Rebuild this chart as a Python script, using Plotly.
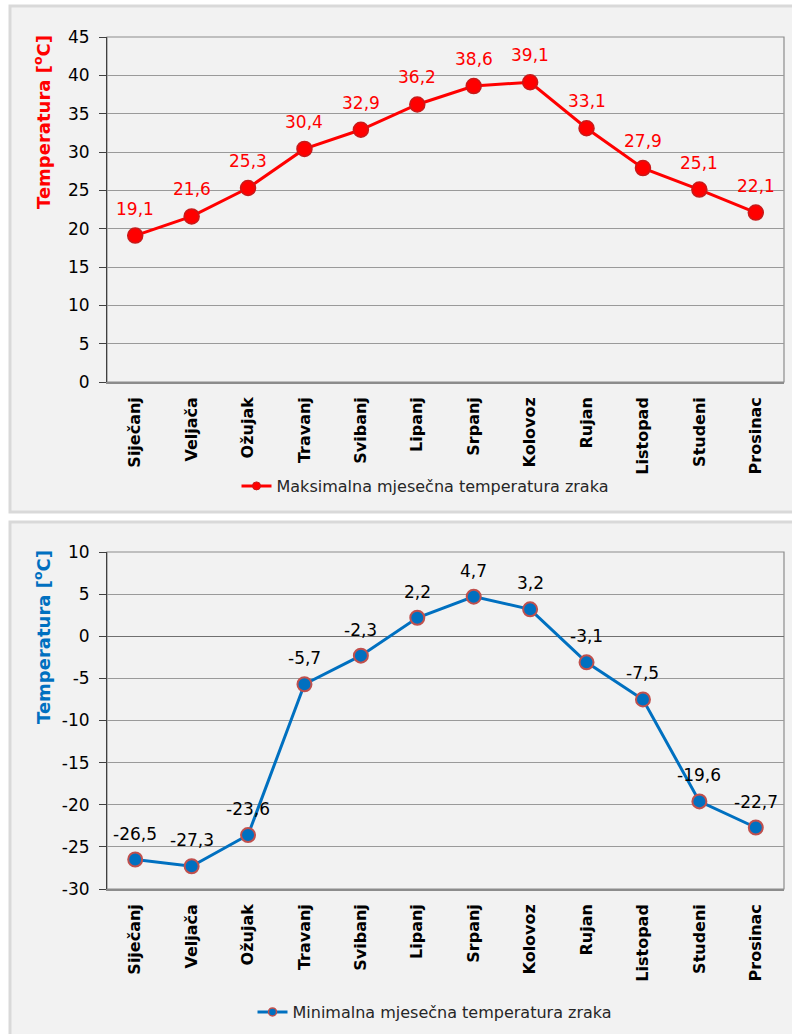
import plotly.graph_objects as go

months = ["Siječanj", "Veljača", "Ožujak", "Travanj", "Svibanj", "Lipanj",
          "Srpanj", "Kolovoz", "Rujan", "Listopad", "Studeni", "Prosinac"]
max_temp = [19.1, 21.6, 25.3, 30.4, 32.9, 36.2, 38.6, 39.1, 33.1, 27.9, 25.1, 22.1]
min_temp = [-26.5, -27.3, -23.6, -5.7, -2.3, 2.2, 4.7, 3.2, -3.1, -7.5, -19.6, -22.7]
max_ticks = [0, 5, 10, 15, 20, 25, 30, 35, 40, 45]
min_ticks = [-30, -25, -20, -15, -10, -5, 0, 5, 10]
max_name = "Maksimalna mjesečna temperatura zraka"
min_name = "Minimalna mjesečna temperatura zraka"
y_title = "Temperatura [<sup>o</sup>C]"

W, H = 792, 1034
FONT = "DejaVu Sans"
RED = "#ff0000"
BLUE = "#0070c0"
GRID = "#9a9a9a"

def px_x(p):
    return p / W

def px_y(p):
    return 1 - p / H

def fmt(v):
    return f"{v:.1f}".replace(".", ",")

fig = go.Figure()

# data traces
fig.add_trace(go.Scatter(
    x=months, y=max_temp, mode="lines+markers", xaxis="x", yaxis="y",
    line=dict(color=RED, width=3),
    marker=dict(size=15, color=RED, line=dict(color="#c81a1a", width=1.5)),
    showlegend=False, hoverinfo="x+y"))
fig.add_trace(go.Scatter(
    x=months, y=min_temp, mode="lines+markers", xaxis="x2", yaxis="y2",
    line=dict(color=BLUE, width=3),
    marker=dict(size=14, color=BLUE, line=dict(color="#c0504d", width=2)),
    showlegend=False, hoverinfo="x+y"))

# legend entries
fig.add_trace(go.Scatter(
    x=[None], y=[None], mode="lines+markers", name=max_name, xaxis="x", yaxis="y",
    line=dict(color=RED, width=3),
    marker=dict(size=8, color=RED, line=dict(color="#c81a1a", width=1)),
    legend="legend"))
fig.add_trace(go.Scatter(
    x=[None], y=[None], mode="lines+markers", name=min_name, xaxis="x2", yaxis="y2",
    line=dict(color=BLUE, width=3),
    marker=dict(size=8, color=BLUE, line=dict(color="#c0504d", width=1.5)),
    legend="legend2"))

annotations = []
for m, v in zip(months, max_temp):
    annotations.append(dict(x=m, y=v, xref="x", yref="y", text=fmt(v), showarrow=False,
                            yshift=27, yanchor="middle",
                            font=dict(family=FONT, size=17, color=RED)))
for m, v in zip(months, min_temp):
    annotations.append(dict(x=m, y=v, xref="x2", yref="y2", text=fmt(v), showarrow=False,
                            yshift=26, yanchor="middle",
                            font=dict(family=FONT, size=17, color="#000000")))

annotations.append(dict(x=px_x(42), y=px_y(122), xref="paper", yref="paper", text=y_title,
                        textangle=-90, showarrow=False, xanchor="center", yanchor="middle",
                        font=dict(family=FONT, size=18, color=RED, weight="bold")))
annotations.append(dict(x=px_x(42), y=px_y(637), xref="paper", yref="paper", text=y_title,
                        textangle=-90, showarrow=False, xanchor="center", yanchor="middle",
                        font=dict(family=FONT, size=18, color=BLUE, weight="bold")))

shapes = [
    dict(type="rect", xref="paper", yref="paper", x0=px_x(10), x1=px_x(800),
         y0=px_y(512), y1=px_y(6), line=dict(color="#d9d9d9", width=3),
         fillcolor="#f2f2f2", layer="below"),
    dict(type="rect", xref="paper", yref="paper", x0=px_x(10), x1=px_x(800),
         y0=px_y(1045), y1=px_y(522), line=dict(color="#d9d9d9", width=3),
         fillcolor="#f2f2f2", layer="below"),
    dict(type="rect", xref="x domain", yref="y domain", x0=0, x1=1, y0=0, y1=1,
         line=dict(color="#8c8c8c", width=1.2), fillcolor="rgba(0,0,0,0)", layer="below"),
    dict(type="rect", xref="x2 domain", yref="y2 domain", x0=0, x1=1, y0=0, y1=1,
         line=dict(color="#8c8c8c", width=1.2), fillcolor="rgba(0,0,0,0)", layer="below"),
]

xcommon = dict(type="category", range=[-0.5, 11.5], showgrid=False, zeroline=False,
               automargin=False,
               showline=True, linecolor="#8c8c8c", linewidth=1.5, ticks="",
               tickangle=-90, ticklabelstandoff=7,
               tickfont=dict(family=FONT, size=16, color="#000000", weight="bold"))
ycommon = dict(showgrid=True, gridcolor=GRID, gridwidth=1, automargin=False,
               showline=True, linecolor="#404040", linewidth=1,
               ticks="outside", ticklen=7, tickcolor="#404040", ticklabelstandoff=6,
               tickmode="array",
               tickfont=dict(family=FONT, size=17, color="#000000"))

fig.update_layout(
    template="none",
    width=W, height=H, autosize=False,
    margin=dict(l=0, r=0, t=0, b=0, pad=0, autoexpand=False),
    paper_bgcolor="#ffffff", plot_bgcolor="rgba(0,0,0,0)",
    font=dict(family=FONT, color="#000000"),
    xaxis=dict(domain=[px_x(107), px_x(784)], anchor="y", **xcommon),
    yaxis=dict(domain=[px_y(382), px_y(37)], anchor="x", range=[0, 45],
               tickvals=max_ticks, ticktext=[str(t) for t in max_ticks],
               zeroline=False, **ycommon),
    xaxis2=dict(domain=[px_x(107), px_x(784)], anchor="y2", **xcommon),
    yaxis2=dict(domain=[px_y(889), px_y(552)], anchor="x2", range=[-30, 10],
                tickvals=min_ticks, ticktext=[str(t) for t in min_ticks],
                zeroline=True, zerolinecolor="#707070", zerolinewidth=1, **ycommon),
    legend=dict(x=px_x(425), y=px_y(486), xanchor="center", yanchor="middle",
                orientation="h", bgcolor="rgba(0,0,0,0)", borderwidth=0,
                font=dict(family=FONT, size=16, color="#262626")),
    legend2=dict(x=px_x(435), y=px_y(1012), xanchor="center", yanchor="middle",
                 orientation="h", bgcolor="rgba(0,0,0,0)", borderwidth=0,
                 font=dict(family=FONT, size=16, color="#262626")),
    annotations=annotations,
    shapes=shapes,
)

fig.write_html("out.html", config={"displayModeBar": False},
               post_script="document.body.style.margin='0';")
